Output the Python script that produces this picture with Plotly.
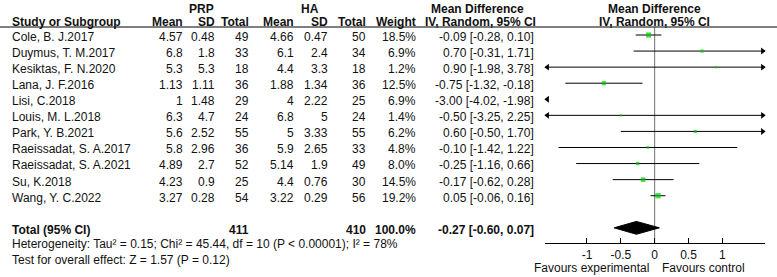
import plotly.graph_objects as go
import math

# ---------------- data ----------------
studies = ["Cole, B. J.2017", "Duymus, T. M.2017", "Kesiktas, F. N.2020", "Lana, J. F.2016",
           "Lisi, C.2018", "Louis, M. L.2018", "Park, Y. B.2021", "Raeissadat, S. A.2017",
           "Raeissadat, S. A.2021", "Su, K.2018", "Wang, Y. C.2022"]
prp_mean = [4.57, 6.8, 5.3, 1.13, 1, 6.3, 5.6, 5.8, 4.89, 4.23, 3.27]
prp_sd = [0.48, 1.8, 5.3, 1.11, 1.48, 4.7, 2.52, 2.96, 2.7, 0.9, 0.28]
prp_n = [49, 33, 18, 36, 29, 24, 55, 36, 52, 25, 54]
ha_mean = [4.66, 6.1, 4.4, 1.88, 4, 6.8, 5, 5.9, 5.14, 4.4, 3.22]
ha_sd = [0.47, 2.4, 3.3, 1.34, 2.22, 5, 3.33, 2.65, 1.9, 0.76, 0.29]
ha_n = [50, 34, 18, 36, 25, 24, 55, 33, 49, 30, 56]
weight = [18.5, 6.9, 1.2, 12.5, 6.9, 1.4, 6.2, 4.8, 8.0, 14.5, 19.2]
md = [-0.09, 0.70, 0.90, -0.75, -3.00, -0.50, 0.60, -0.10, -0.25, -0.17, 0.05]
ci_lo = [-0.28, -0.31, -1.98, -1.32, -4.02, -3.25, -0.50, -1.42, -1.16, -0.62, -0.06]
ci_hi = [0.10, 1.71, 3.78, -0.18, -1.98, 2.25, 1.70, 1.22, 0.66, 0.28, 0.16]

total_prp = 411
total_ha = 410
total_weight = 100.0
total_md = -0.27
total_lo = -0.60
total_hi = 0.07

heterogeneity = "Heterogeneity: Tau² = 0.15; Chi² = 45.44, df = 10 (P < 0.00001); I² = 78%"
overall_test = "Test for overall effect: Z = 1.57 (P = 0.12)"

tick_vals = [-1, -0.5, 0, 0.5, 1]
tick_text = ["-1", "-0.5", "0", "0.5", "1"]
left_label = "Favours experimental"
right_label = "Favours control"

# ---------------- layout constants ----------------
W, H = 777, 277
ROW0_PX = 35.0
ROW_PX = 16.07
XMIN, XMAX = -1.62, 1.63
FONT = "Liberation Sans, Arial, sans-serif"
FS = 12
GREEN = "#00C800"
TXT_SHIFT = 0.12

def px2row(p):
    return (p - ROW0_PX) / ROW_PX

y_top = px2row(0)
y_bot = px2row(H)
axis_row = px2row(243.3)
header_line_row = px2row(27)
total_row = 12
het_row = 13
test_row = 14

fig = go.Figure()
annotations = []

def txt(xpx, yrow, s, anchor="right", bold=False):
    annotations.append(dict(
        x=xpx / W, xref="paper", y=yrow, yref="y", text=("<b>%s</b>" % s) if bold else s,
        xanchor=anchor, yanchor="middle", showarrow=False, borderpad=0,
        font=dict(family=FONT, size=FS, color="#111")))

# column right edges (px)
cols = dict(pm=184, ps=216, pn=250, hm=295, hs=329, hn=367, w=417, ci=535)
NAME_X = 11

# headers
h1 = -1.6
h2 = -0.8
txt(201.5, h1, "PRP", "center", True)
txt(310, h1, "HA", "center", True)
txt(477, h1, "Mean Difference", "center", True)
txt(654, h1, "Mean Difference", "center", True)
txt(NAME_X, h2, "Study or Subgroup", "left", True)
txt(cols["pm"], h2, "Mean", bold=True)
txt(cols["ps"], h2, "SD", bold=True)
txt(cols["pn"], h2, "Total", bold=True)
txt(cols["hm"], h2, "Mean", bold=True)
txt(cols["hs"], h2, "SD", bold=True)
txt(cols["hn"], h2, "Total", bold=True)
txt(cols["w"], h2, "Weight", bold=True)
txt(480, h2, "IV, Random, 95% CI", "center", True)
txt(654, h2, "IV, Random, 95% CI", "center", True)

def g(v):
    return f"{v:g}"

for i, s in enumerate(studies):
    yr = i + TXT_SHIFT
    txt(NAME_X, yr, s, "left")
    txt(cols["pm"], yr, g(prp_mean[i]))
    txt(cols["ps"], yr, g(prp_sd[i]))
    txt(cols["pn"], yr, str(prp_n[i]))
    txt(cols["hm"], yr, g(ha_mean[i]))
    txt(cols["hs"], yr, g(ha_sd[i]))
    txt(cols["hn"], yr, str(ha_n[i]))
    txt(cols["w"], yr, f"{weight[i]:.1f}%")
    txt(cols["ci"], yr, f"{md[i]:.2f} [{ci_lo[i]:.2f}, {ci_hi[i]:.2f}]")

yr = total_row + TXT_SHIFT
txt(NAME_X, yr, "Total (95% CI)", "left", True)
txt(cols["pn"], yr, str(total_prp), bold=True)
txt(cols["hn"], yr, str(total_ha), bold=True)
txt(cols["w"], yr, f"{total_weight:.1f}%", bold=True)
txt(cols["ci"], yr, f"{total_md:.2f} [{total_lo:.2f}, {total_hi:.2f}]", bold=True)
txt(NAME_X, het_row, heterogeneity, "left")
txt(NAME_X, test_row, overall_test, "left")

# favours labels
annotations.append(dict(x=0, xref="x", y=1 - 268 / H, yref="paper", text=left_label,
                        xanchor="right", yanchor="middle", xshift=-4, showarrow=False,
                        font=dict(family=FONT, size=FS, color="#111")))
annotations.append(dict(x=0, xref="x", y=1 - 268 / H, yref="paper", text=right_label,
                        xanchor="left", yanchor="middle", xshift=5, showarrow=False,
                        font=dict(family=FONT, size=FS, color="#111")))

# ---------------- forest marks ----------------
ARW = 0.035
for i in range(len(studies)):
    lo, hi = ci_lo[i], ci_hi[i]
    a = max(lo, XMIN)
    b = min(hi, XMAX)
    if a < b:
        fig.add_trace(go.Scatter(x=[a, b], y=[i, i], mode="lines",
                                 line=dict(color="black", width=1), hoverinfo="skip",
                                 showlegend=False, cliponaxis=False))
    if lo < XMIN:
        fig.add_trace(go.Scatter(x=[XMIN + ARW], y=[i], mode="markers",
                                 marker=dict(symbol="triangle-left", size=6, color="black"),
                                 showlegend=False, cliponaxis=False, hoverinfo="skip"))
    if hi > XMAX:
        fig.add_trace(go.Scatter(x=[XMAX - ARW], y=[i], mode="markers",
                                 marker=dict(symbol="triangle-right", size=6, color="black"),
                                 showlegend=False, cliponaxis=False, hoverinfo="skip"))

# squares
vis = [i for i in range(len(studies)) if XMIN <= md[i] <= XMAX]
fig.add_trace(go.Scatter(
    x=[md[i] for i in vis], y=vis, mode="markers",
    marker=dict(symbol="square", color=GREEN, line=dict(width=0),
                size=[max(2.2, 1.2 * math.sqrt(weight[i])) for i in vis]),
    showlegend=False, hoverinfo="skip"))

# diamond
dh = 0.4
fig.add_trace(go.Scatter(
    x=[total_lo, total_md, total_hi, total_md, total_lo],
    y=[total_row, total_row - dh, total_row, total_row + dh, total_row],
    mode="lines", fill="toself", fillcolor="black", line=dict(color="black", width=1),
    showlegend=False, hoverinfo="skip"))

shapes = [
    dict(type="line", xref="paper", x0=0, x1=1, yref="y", y0=header_line_row, y1=header_line_row,
         line=dict(color="black", width=1)),
    dict(type="line", xref="x", x0=0, x1=0, yref="y", y0=header_line_row, y1=axis_row,
         line=dict(color="#707070", width=1), layer="below"),
]

fig.update_layout(
    width=W, height=H, margin=dict(l=0, r=0, t=0, b=0),
    paper_bgcolor="white", plot_bgcolor="white",
    showlegend=False,
    annotations=annotations, shapes=shapes,
    xaxis=dict(domain=[545 / W, 765 / W], range=[XMIN, XMAX], anchor="free",
               position=1 - 243.3 / H, showline=True, linecolor="black", linewidth=1,
               ticks="inside", ticklen=5, tickcolor="black", tickvals=tick_vals,
               ticktext=tick_text, showgrid=False, zeroline=False,
               tickfont=dict(family=FONT, size=FS, color="#111")),
    yaxis=dict(domain=[0, 1], range=[y_bot, y_top], visible=False, showgrid=False,
               zeroline=False),
)

fig.write_html("out.html", config={"displayModeBar": False},
               post_script="document.body.style.margin='0';document.body.style.overflow='hidden';")
